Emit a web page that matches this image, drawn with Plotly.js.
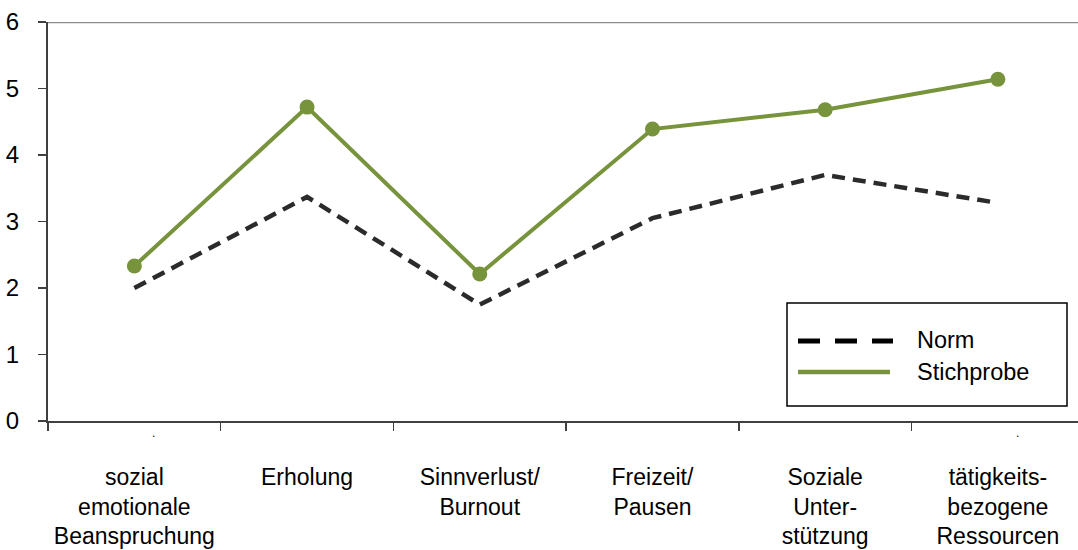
<!DOCTYPE html>
<html>
<head>
<meta charset="utf-8">
<script src="https://cdn.plot.ly/plotly-3.0.1.min.js"></script>
<style>html,body{margin:0;padding:0;background:#fff;}#chart{width:1078px;height:550px;}</style>
</head>
<body>
<div id="chart"></div>
<script>
const categories = ["sozial<br>emotionale<br>Beanspruchung", "Erholung", "Sinnverlust/<br>Burnout", "Freizeit/<br>Pausen", "Soziale<br>Unter-<br>stützung", "tätigkeits-<br>bezogene<br>Ressourcen"];
const categoryKeys = ["c1", "c2", "c3", "c4", "c5", "c6"];
const normName = "Norm";
const normValues = [2.0, 3.37, 1.75, 3.05, 3.70, 3.28];
const stichName = "Stichprobe";
const stichValues = [2.33, 4.72, 2.21, 4.39, 4.68, 5.14];
const yTicks = [0, 1, 2, 3, 4, 5, 6];

const green = "#77933C";
const font = "Liberation Sans, Arial, sans-serif";

const traces = [
  {
    x: categoryKeys, y: normValues, name: normName, type: "scatter", mode: "lines",
    line: {color: "#2b2b2b", width: 4.5, dash: "13px,8px"},
    showlegend: false, hoverinfo: "skip"
  },
  {
    x: categoryKeys, y: stichValues, name: stichName, type: "scatter", mode: "lines+markers",
    line: {color: green, width: 4},
    marker: {color: green, size: 15},
    showlegend: false, hoverinfo: "skip"
  }
];

const layout = {
  width: 1078, height: 550,
  margin: {l: 48, r: 0, t: 22, b: 129, pad: 0},
  paper_bgcolor: "#fff", plot_bgcolor: "#fff",
  font: {family: font, color: "#000", size: 22},
  showlegend: false,
  xaxis: {
    type: "category",
    categoryorder: "array", categoryarray: categoryKeys,
    tickvals: categoryKeys, ticktext: categories,
    range: [-0.5, 5.464],
    tickson: "boundaries",
    ticks: "outside", ticklen: 8, tickwidth: 1.5, tickcolor: "#404040",
    showline: true, linecolor: "#404040", linewidth: 2,
    showgrid: false, zeroline: false,
    tickfont: {family: font, size: 23, color: "#000"},
    ticklabelstandoff: 34,
    fixedrange: true
  },
  yaxis: {
    range: [0, 6], tickvals: yTicks,
    ticks: "outside", ticklen: 8, tickwidth: 1.5, tickcolor: "#404040",
    showline: true, linecolor: "#404040", linewidth: 2,
    showgrid: false, zeroline: false,
    tickfont: {family: font, size: 24, color: "#000"},
    ticklabelstandoff: 14,
    fixedrange: true
  },
  shapes: [
    {type: "line", xref: "paper", yref: "y", x0: 0, x1: 1, y0: 6, y1: 6,
     line: {color: "#8c8c8c", width: 2.5}},
    // legend box
    {type: "rect", xref: "paper", yref: "paper",
     x0: (787 - 48) / 1030, x1: (1067 - 48) / 1030,
     y0: (421 - 406) / 399, y1: (421 - 303) / 399,
     line: {color: "#000", width: 1.5}, fillcolor: "#fff", layer: "above"},
    {type: "line", xref: "paper", yref: "paper",
     x0: (798 - 48) / 1030, x1: (893 - 48) / 1030,
     y0: (421 - 341) / 399, y1: (421 - 341) / 399,
     line: {color: "#000", width: 5, dash: "22px,15px"}, layer: "above"},
    {type: "line", xref: "paper", yref: "paper",
     x0: (798 - 48) / 1030, x1: (890 - 48) / 1030,
     y0: (421 - 372) / 399, y1: (421 - 372) / 399,
     line: {color: green, width: 4.5}, layer: "above"}
  ],
  annotations: [
    {xref: "paper", yref: "paper", x: (915 - 48) / 1030, y: (421 - 340) / 399,
     xanchor: "left", yanchor: "middle", text: normName, showarrow: false,
     font: {family: font, size: 23.5, color: "#000"}},
    {xref: "paper", yref: "paper", x: (915 - 48) / 1030, y: (421 - 372) / 399,
     xanchor: "left", yanchor: "middle", text: stichName, showarrow: false,
     font: {family: font, size: 23.5, color: "#000"}},
    {xref: "paper", yref: "paper", x: (153 - 48) / 1030, y: (421 - 433) / 399,
     xanchor: "center", yanchor: "middle", text: ".", showarrow: false,
     font: {family: font, size: 12, color: "#000"}},
    {xref: "paper", yref: "paper", x: (1017 - 48) / 1030, y: (421 - 433) / 399,
     xanchor: "center", yanchor: "middle", text: ".", showarrow: false,
     font: {family: font, size: 12, color: "#000"}}
  ]
};

Plotly.newPlot("chart", traces, layout, {displayModeBar: false, staticPlot: true});
</script>
</body>
</html>
